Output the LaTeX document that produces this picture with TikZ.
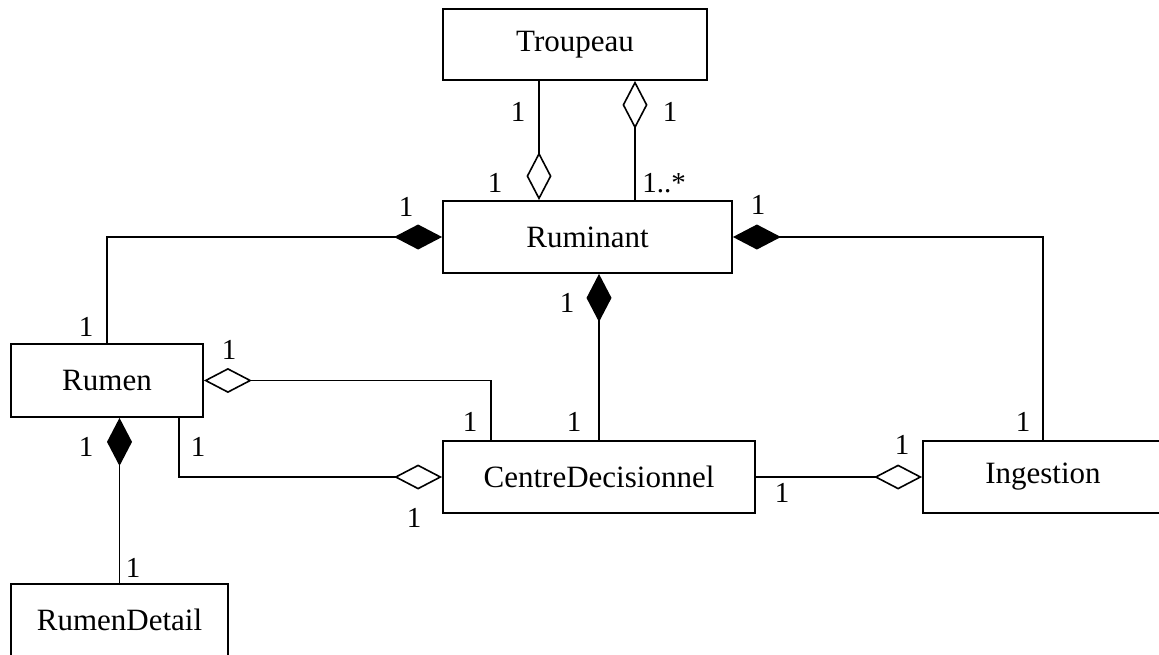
\documentclass[tikz,border=0pt]{standalone}
\usepackage{fontspec}
\setmainfont{Liberation Serif}
\usetikzlibrary{arrows.meta}
\begin{document}
\begin{tikzpicture}[x=1pt,y=-1pt,
  every node/.style={inner sep=0pt},
  classbox/.style={draw,line width=1.8pt,font=\fontsize{31}{36}\selectfont},
  mult/.style={font=\fontsize{29}{34}\selectfont},
  link/.style={line width=1.6pt},
  aggr/.style={link,-{Diamond[open,length=48pt,width=25pt]}},
  comp/.style={link,-{Diamond[length=48pt,width=25pt]}}]
\useasboundingbox (0,0) rectangle (1159,654);
\clip (0,0) rectangle (1159,654);

% classes
\node[classbox,minimum width=264pt,minimum height=71pt] (troupeau) at (575,44.5) {Troupeau};
\node[classbox,minimum width=289pt,minimum height=72pt] (ruminant) at (587.5,237) {Ruminant};
\node[classbox,minimum width=192pt,minimum height=73pt] (rumen) at (107,380.5) {Rumen};
\node[classbox,minimum width=312pt,minimum height=72pt] (centre) at (599,477) {CentreDecisionnel};
\node[classbox,minimum width=240pt,minimum height=72pt] (ingestion) at (1043,477) {Ingestion};
\node[classbox,minimum width=217pt,minimum height=72pt] (detail) at (119.5,620) {RumenDetail};

% associations
\draw[aggr] (539,0 |- troupeau.south) -- (539,0 |- ruminant.north);
\draw[aggr] (635,0 |- ruminant.north) -- (635,0 |- troupeau.south);
\draw[comp] (rumen.north) |- (ruminant.west);
\draw[comp] (ingestion.north) |- (ruminant.east);
\draw[comp] (centre.north) -- (centre.north |- ruminant.south);
\draw[aggr] (491,0 |- centre.north) |- (rumen.east);
\draw[aggr] (179,0 |- rumen.south) |- (centre.west);
\draw[comp] (detail.north) -- (detail.north |- rumen.south);
\draw[aggr] (centre.east) -- (ingestion.west);

% multiplicities
\node[mult] (m1) at (518,112) {1};
\node[mult] (m2) at (670,112) {1};
\node[mult] (m3) at (495,183) {1};
\node[mult] (m4) at (664,183) {1..*};
\node[mult] (m5) at (406,207) {1};
\node[mult] (m6) at (758,205) {1};
\node[mult] (m7) at (86,327) {1};
\node[mult] (m8) at (229,350) {1};
\node[mult] (m9) at (567,303) {1};
\node[mult] (m10) at (86,447) {1};
\node[mult] (m11) at (198,447) {1};
\node[mult] (m12) at (470,422) {1};
\node[mult] (m13) at (574,422) {1};
\node[mult] (m14) at (1023,422) {1};
\node[mult] (m15) at (902,445) {1};
\node[mult] (m16) at (414,518) {1};
\node[mult] (m17) at (782,493) {1};
\node[mult] (m18) at (133,568) {1};
\end{tikzpicture}
\end{document}
